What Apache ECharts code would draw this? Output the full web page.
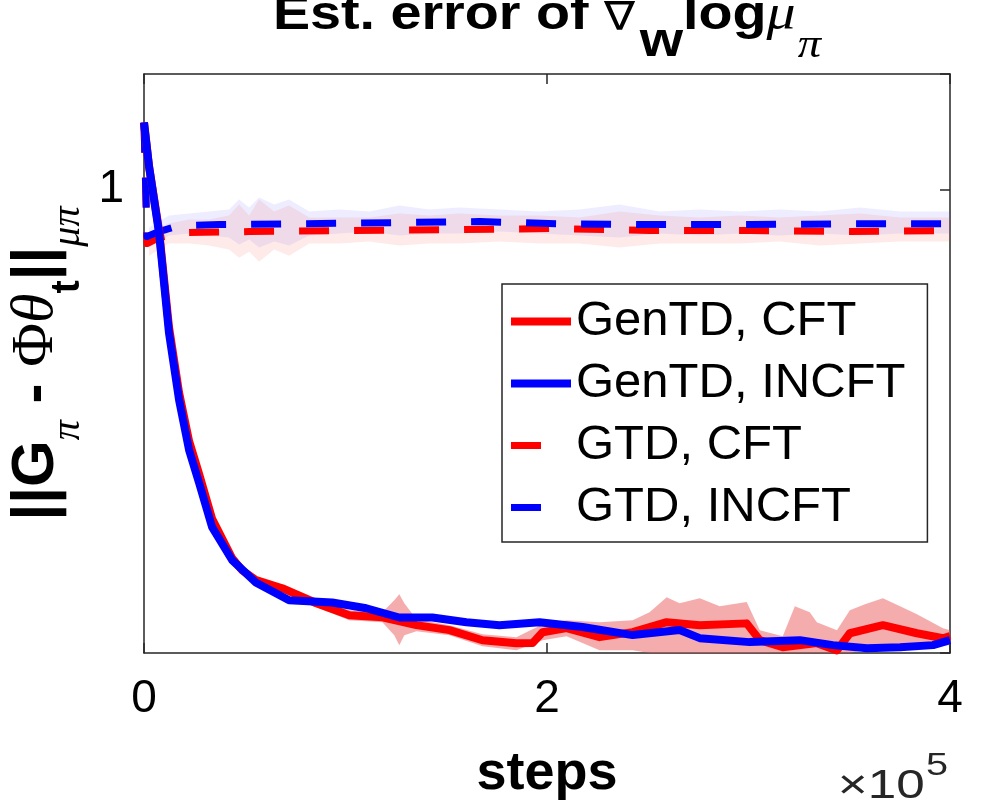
<!DOCTYPE html>
<html lang="en">
<head>
<meta charset="UTF-8">
<title>Est. error of grad log mu</title>
<script src="https://cdn.jsdelivr.net/npm/echarts@6/dist/echarts.min.js"></script>
<style>
    html, body { margin: 0; padding: 0; background: #fff; }
    #chart { width: 1008px; height: 810px; }
</style>
</head>
<body>
<div id="chart"></div>
<script>
    // steps on x, estimation error on a log y axis
    const xTickValues = [0, 200000, 400000];

    // GenTD, CFT (red solid)
    const genCftX = [0, 2500, 7450, 12400, 17400, 22400, 27300, 33800, 43700, 48700, 55700, 68600,
        85500, 101900, 118300, 135200, 151600, 168000, 184800, 192800, 197800, 209700, 226100, 242500,
        259400, 275800, 299100, 305600, 317000, 333900, 343900, 350300, 366700, 383600, 396500, 400000];
    const genCftY = [1.19, 1.062, 0.90, 0.70, 0.59, 0.52, 0.478, 0.425, 0.384, 0.372, 0.3625, 0.355,
        0.3414, 0.331, 0.3292, 0.3225, 0.3184, 0.3101, 0.3077, 0.3078, 0.3166, 0.320, 0.3126, 0.3167,
        0.325, 0.3225, 0.324, 0.3102, 0.3045, 0.3078, 0.302, 0.3158, 0.3225, 0.3158, 0.3117, 0.3134];

    // GenTD, INCFT (blue solid)
    const genIncX = [0, 2500, 7450, 12400, 17400, 22400, 27300, 33800, 43700, 55700, 72000, 93400,
        110300, 126700, 143100, 160000, 176400, 196300, 217600, 242500, 265800, 275800, 300600, 325500,
        341900, 358800, 375200, 391600, 400000];
    const genIncY = [1.19, 1.062, 0.894, 0.689, 0.579, 0.508, 0.467, 0.416, 0.382, 0.360, 0.344, 0.342,
        0.337, 0.329, 0.329, 0.325, 0.3225, 0.325, 0.321, 0.3143, 0.3184, 0.3118, 0.3086, 0.3102,
        0.3062, 0.3038, 0.3046, 0.3062, 0.3102];

    // GTD, CFT (red dashed)
    const gtdCftX = [0, 1500, 7450, 19900, 52200, 101900, 151600, 201200, 250900, 300600, 350300, 400000];
    const gtdCftY = [1.19, 0.869, 0.8826, 0.894, 0.8965, 0.899, 0.901, 0.9036, 0.899, 0.899, 0.8965, 0.899];

    // GTD, INCFT (blue dashed)
    const gtdIncX = [0, 1500, 7450, 17400, 37300, 77000, 126700, 166500, 206200, 250900, 300600, 350300, 400000];
    const gtdIncY = [1.19, 0.885, 0.8965, 0.9106, 0.913, 0.915, 0.9178, 0.9201, 0.915, 0.913, 0.913, 0.915, 0.915];

    // shaded spread around the GTD curves
    const dashBandX = [2500, 12400, 22400, 32300, 42200, 47200, 52200, 57100, 64600, 72000, 82000, 96900,
        111800, 126700, 141600, 156500, 176400, 196300, 216100, 236000, 255900, 275800, 295700, 315500,
        335400, 355300, 375200, 400000];
    const gtdIncHigh = [0.9059, 0.9346, 0.9394, 0.9444, 0.9493, 0.9743, 0.9542, 0.9794, 0.9617, 0.9743, 0.9444, 0.9493,
        0.9444, 0.9592, 0.9493, 0.9542, 0.9493, 0.9444, 0.9493, 0.9617, 0.9444, 0.9493, 0.9444, 0.9493,
        0.9444, 0.9542, 0.9444, 0.9444];
    const gtdIncLow = [0.8600, 0.8873, 0.8919, 0.8873, 0.8826, 0.8667, 0.8781, 0.8600, 0.8735, 0.8644, 0.8873, 0.8919,
        0.8965, 0.8873, 0.8919, 0.8919, 0.8965, 0.8919, 0.8873, 0.8826, 0.8919, 0.8873, 0.8919, 0.8873,
        0.8919, 0.8873, 0.8919, 0.8919];
    const gtdCftHigh = [0.8919, 0.9154, 0.9249, 0.9249, 0.9346, 0.9617, 0.9346, 0.9743, 0.9444, 0.9592, 0.9297, 0.9297,
        0.9297, 0.9394, 0.9346, 0.9394, 0.9346, 0.9346, 0.9297, 0.9444, 0.9346, 0.9297, 0.9346, 0.9297,
        0.9346, 0.9394, 0.9297, 0.9297];
    const gtdCftLow = [0.8421, 0.8690, 0.8690, 0.8644, 0.8555, 0.8378, 0.8510, 0.8292, 0.8555, 0.8421, 0.8690, 0.8690,
        0.8735, 0.8644, 0.8690, 0.8690, 0.8735, 0.8690, 0.8690, 0.8600, 0.8690, 0.8690, 0.8690, 0.8735,
        0.8644, 0.8690, 0.8735, 0.8735];

    // shaded spread around GenTD, CFT
    const genCftBandX = [68600, 85500, 101900, 118300, 124200, 126700, 129200, 135200, 151600, 168000, 184800, 197800,
        209700, 226100, 242500, 250900, 259400, 265800, 275800, 285700, 299100, 305600, 317000, 323000,
        330400, 333900, 343900, 350300, 357800, 366700, 375200, 383600, 396500, 400000];
    const genCftLow = [0.3514, 0.3379, 0.3267, 0.3250, 0.3142, 0.3061, 0.3142, 0.3175, 0.3142, 0.3053, 0.3022, 0.3101,
        0.3134, 0.3022, 0.3022, 0.3000, 0.300, 0.300, 0.300, 0.300, 0.300, 0.300, 0.300, 0.300,
        0.300, 0.300, 0.300, 0.300, 0.3022, 0.3061, 0.3061, 0.3061, 0.3061, 0.3061];
    const genCftHigh = [0.3587, 0.3459, 0.3353, 0.3336, 0.3441, 0.3495, 0.3414, 0.3275, 0.3225, 0.3150, 0.3126, 0.3233,
        0.3267, 0.3250, 0.3267, 0.3336, 0.3468, 0.3414, 0.3459, 0.3388, 0.3424, 0.3183, 0.3134, 0.3388,
        0.3336, 0.3250, 0.3183, 0.3353, 0.3406, 0.3459, 0.3388, 0.3318, 0.3200, 0.3183];

    const RED = '#ff0000';
    const BLUE = '#0000ff';
    const INK = '#262626';
    const SANS = '"Liberation Sans", Arial, Helvetica, sans-serif';
    const SERIF = '"Liberation Serif", "Times New Roman", serif';

    function pairs(xs, ys) {
        return xs.map((x, i) => [x, ys[i]]);
    }

    // filled region between low and high, drawn once as one polygon
    function band(xs, low, high, color) {
        return {
            type: 'custom', silent: true, clip: true,
            data: xs.map((x, i) => [x, low[i], high[i]]),
            encode: { x: 0, y: [1, 2] },
            renderItem: function (params, api) {
                if (params.dataIndexInside !== 0) return null;
                const top = [], bottom = [];
                for (let i = 0; i < xs.length; i++) {
                    top.push(api.coord([xs[i], high[i]]));
                    bottom.unshift(api.coord([xs[i], low[i]]));
                }
                return {
                    type: 'polygon',
                    shape: { points: top.concat(bottom) },
                    style: { fill: color, stroke: null }
                };
            }
        };
    }

    function curve(name, xs, ys, color, dashed) {
        return {
            name: name, type: 'line', data: pairs(xs, ys), symbol: 'none', showSymbol: false,
            lineStyle: { color: color, width: dashed ? 7 : 8, type: dashed ? [30, 25] : 'solid', join: 'round' },
            itemStyle: { color: color }
        };
    }

    const chart = echarts.init(document.getElementById('chart'));

    const axisLine = { show: true, onZero: false, lineStyle: { color: INK, width: 1.5 } };
    const axisTick = { show: true, inside: true, length: 10, lineStyle: { color: INK, width: 1.5 } };

    const option = {
        animation: false,
        backgroundColor: '#fff',
        grid: { left: 144, right: 58, top: 74, bottom: 157, containLabel: false, outerBoundsMode: 'none' },
        graphic: [{
            type: 'text', x: 547, y: -35, scaleX: 1.16, silent: true,
            style: {
                text: '{a|Est. error of }{n|∇}{w|w}{a|log}{m|μ}{p|π}',
                align: 'center', verticalAlign: 'top',
                rich: {
                    a: { fontSize: 48, fontWeight: 'bold', fontFamily: SANS, fill: '#000' },
                    n: { fontSize: 40, fontFamily: '"DejaVu Sans", sans-serif', fill: '#000', padding: [8, 4, 0, 0] },
                    w: { fontSize: 48, fontWeight: 'bold', fontFamily: SANS, fill: '#000', padding: [54, 0, 0, 0] },
                    m: { fontSize: 50, fontStyle: 'italic', fontFamily: SERIF, fill: '#000' },
                    p: { fontSize: 40, fontStyle: 'italic', fontFamily: SERIF, fill: '#000', padding: [60, 0, 0, 2] }
                }
            }
        }, {
            type: 'text', x: 948, y: 751, scaleX: 1.28, silent: true,
            style: {
                text: '{a|×10}{e|5}',
                align: 'right', verticalAlign: 'top',
                rich: {
                    a: { fontSize: 40, fontFamily: SANS, fill: INK },
                    e: { fontSize: 31, fontFamily: SANS, fill: INK, padding: [0, 0, 40, 1] }
                }
            }
        }],
        legend: {
            orient: 'vertical', left: 502, top: 284,
            padding: [13, 22, 10, 5],
            itemWidth: 60, itemHeight: 14, itemGap: 13,
            backgroundColor: '#fff', borderColor: INK, borderWidth: 1.5, borderRadius: 0,
            selectedMode: false,
            lineStyle: { width: 8 },
            itemStyle: { opacity: 0 },
            textStyle: { fontSize: 49, lineHeight: 49, color: '#000', fontFamily: SANS },
            data: [
                { name: 'GenTD, CFT' },
                { name: 'GenTD, INCFT' },
                { name: 'GTD, CFT', lineStyle: { width: 7, type: [30, 60] } },
                { name: 'GTD, INCFT', lineStyle: { width: 7, type: [30, 60] } }
            ]
        },
        xAxis: [{
            type: 'value', position: 'bottom', min: 0, max: 400000, interval: 200000,
            axisLine: axisLine, axisTick: axisTick, splitLine: { show: false },
            axisLabel: {
                fontSize: 46, color: '#000', fontFamily: SANS, margin: 23,
                formatter: v => xTickValues.indexOf(v) >= 0 ? String(v / 100000) : ''
            },
            name: 'steps', nameLocation: 'middle', nameGap: 94, nameMoveOverlap: false,
            nameTextStyle: { fontSize: 54, fontWeight: 'bold', color: '#000', fontFamily: SANS }
        }, {
            type: 'value', position: 'top', min: 0, max: 400000, interval: 200000,
            axisLine: axisLine, axisTick: axisTick, splitLine: { show: false }, axisLabel: { show: false }
        }],
        yAxis: [{
            type: 'log', logBase: 10, position: 'left', min: 0.3, max: 1.35,
            axisLine: axisLine, axisTick: axisTick, minorTick: { show: false },
            splitLine: { show: false }, minorSplitLine: { show: false },
            axisLabel: {
                fontSize: 46, color: '#000', fontFamily: SANS, margin: 20,
                showMinLabel: false, showMaxLabel: false
            },
            name: '{b|||G}{s|π}{b| - }{f|Φ}{i|θ}{t|t}{b|||}{s|μπ}',
            nameLocation: 'middle', nameRotate: 90, nameGap: 56, nameMoveOverlap: false,
            nameTextStyle: {
                color: '#000',
                rich: {
                    b: { fontSize: 60, fontWeight: 'bold', fontFamily: SANS, color: '#000' },
                    f: { fontSize: 60, fontFamily: SERIF, color: '#000' },
                    i: { fontSize: 60, fontStyle: 'italic', fontFamily: SERIF, color: '#000' },
                    s: { fontSize: 40, fontStyle: 'italic', fontFamily: SERIF, color: '#000', padding: [63, 0, 0, 0] },
                    t: { fontSize: 40, fontWeight: 'bold', fontFamily: SANS, color: '#000', padding: [63, 0, 0, 0] }
                }
            }
        }, {
            type: 'log', logBase: 10, position: 'right', min: 0.3, max: 1.35,
            axisLine: axisLine, axisTick: axisTick, minorTick: { show: false },
            splitLine: { show: false }, axisLabel: { show: false }
        }],
        series: [
            band(dashBandX, gtdIncLow, gtdIncHigh, 'rgba(110,110,255,0.12)'),
            band(dashBandX, gtdCftLow, gtdCftHigh, 'rgba(255,80,80,0.12)'),
            band(genCftBandX, genCftLow, genCftHigh, 'rgba(235,90,90,0.5)'),
            curve('GTD, CFT', gtdCftX, gtdCftY, RED, true),
            curve('GTD, INCFT', gtdIncX, gtdIncY, BLUE, true),
            curve('GenTD, CFT', genCftX, genCftY, RED, false),
            curve('GenTD, INCFT', genIncX, genIncY, BLUE, false)
        ]
    };

    chart.setOption(option);
</script>
</body>
</html>
